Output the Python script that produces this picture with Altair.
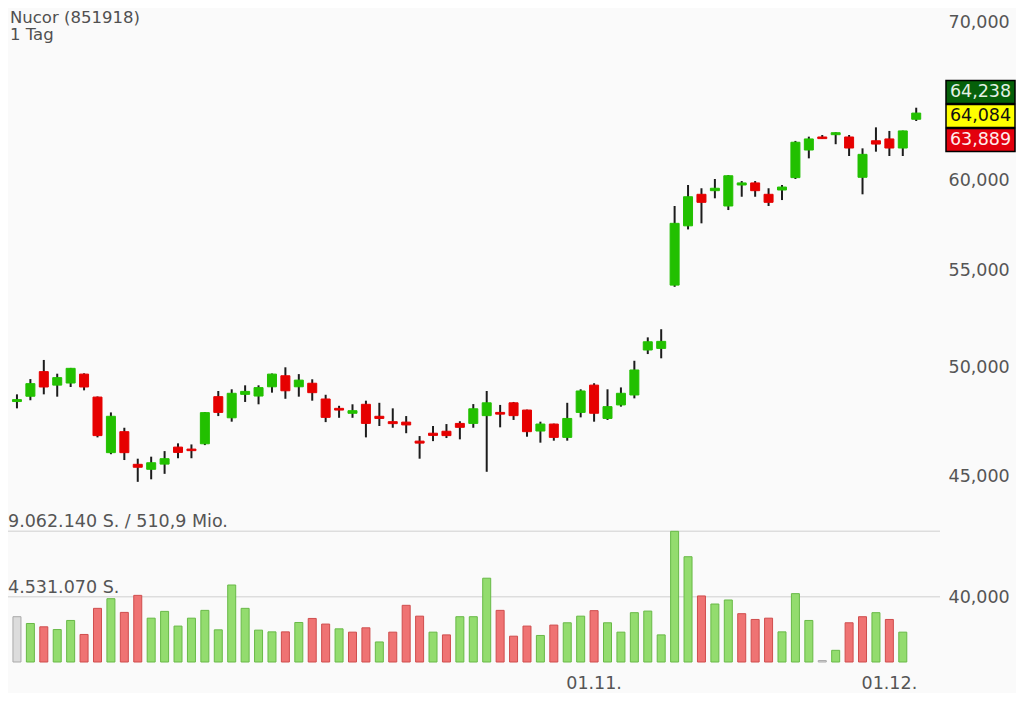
import altair as alt
import numpy as np
import pandas as pd

# ---------------- data ----------------
title_lines = ["Nucor (851918)", "1 Tag"]

opens = [48.39, 48.64, 49.82, 49.17, 49.27, 49.70, 48.60, 46.04, 46.99, 45.52,
         45.30, 45.53, 46.29, 46.20, 46.44, 48.62, 47.63, 48.73, 48.65, 49.09,
         49.62, 49.09, 49.26, 48.51, 48.07, 47.84, 48.26, 47.70, 47.45, 47.43,
         46.56, 46.92, 47.01, 47.37, 47.37, 47.73, 47.88, 48.33, 47.99, 47.02,
         47.34, 46.73, 47.88, 49.17, 47.60, 48.23, 48.70, 50.88, 50.96, 54.20,
         57.42, 59.21, 59.42, 58.54, 59.75, 59.87, 59.21, 59.46, 60.18, 61.82,
         62.61, 62.75, 62.61, 60.20, 62.38, 62.49, 61.94, 63.70]
highs = [48.73, 49.46, 50.39, 49.72, 50.00, 49.74, 48.63, 47.88, 47.17, 45.77,
         45.86, 46.11, 46.46, 46.41, 47.90, 48.89, 48.97, 49.16, 49.16, 49.73,
         50.03, 49.70, 49.45, 48.71, 48.19, 48.26, 48.43, 48.33, 48.07, 47.71,
         46.79, 47.25, 47.34, 47.47, 48.27, 48.89, 48.23, 48.37, 48.01, 47.45,
         47.36, 48.33, 48.97, 49.26, 48.97, 49.06, 50.35, 51.51, 51.92, 58.54,
         59.75, 59.56, 60.10, 60.33, 59.98, 59.98, 59.56, 59.75, 62.37, 62.63,
         62.73, 62.90, 62.73, 61.92, 63.20, 62.98, 63.00, 64.42]
lows = [48.07, 48.45, 48.73, 48.62, 49.08, 48.92, 46.73, 45.97, 45.71, 44.75,
        44.86, 45.10, 45.79, 45.79, 46.38, 47.71, 47.45, 48.37, 48.26, 48.81,
        48.52, 48.62, 48.43, 47.43, 47.63, 47.63, 46.73, 47.25, 47.17, 46.92,
        45.77, 46.56, 46.70, 46.64, 47.17, 45.19, 47.19, 47.53, 46.76, 46.49,
        46.58, 46.58, 47.65, 47.45, 47.53, 48.15, 48.54, 50.68, 50.47, 54.11,
        57.22, 57.56, 58.98, 58.31, 59.07, 59.07, 58.54, 58.88, 60.10, 61.32,
        62.49, 62.17, 61.46, 59.21, 61.72, 61.46, 61.46, 63.59]
closes = [48.48, 49.24, 49.08, 49.53, 49.98, 49.08, 46.81, 47.70, 46.04, 45.39,
          45.59, 45.77, 46.05, 46.13, 47.87, 47.88, 48.78, 48.87, 49.05, 49.70,
          48.90, 49.41, 48.81, 47.65, 47.99, 47.96, 47.37, 47.60, 47.36, 47.30,
          46.47, 46.82, 46.81, 47.19, 48.05, 48.33, 47.80, 47.73, 46.99, 47.34,
          46.73, 47.60, 48.89, 47.84, 48.15, 48.78, 49.90, 51.29, 51.31, 57.56,
          59.07, 58.75, 59.56, 60.29, 59.87, 59.42, 58.75, 59.63, 62.29, 62.49,
          62.51, 62.87, 61.94, 61.56, 62.18, 61.94, 62.98, 64.084]

volumes = [3140000, 2670000, 2440000, 2250000, 2880000, 1910000, 3720000, 4390000, 3440000, 4620000,
           3040000, 3510000, 2490000, 3040000, 3580000, 2230000, 5340000, 3720000, 2210000, 2090000,
           2090000, 2740000, 3020000, 2630000, 2300000, 2070000, 2370000, 1390000, 2070000, 3930000,
           3180000, 2070000, 1880000, 3140000, 3140000, 5810000, 3580000, 1790000, 2490000, 1840000,
           2560000, 2720000, 3180000, 3560000, 2720000, 2070000, 3420000, 3530000, 1880000, 9062140,
           7300000, 4580000, 4020000, 4300000, 3350000, 2950000, 3040000, 2090000, 4740000, 2880000,
           100000, 810000, 2720000, 3140000, 3420000, 2950000, 2070000]
vol_dir = ("n u d u u d d u d d "
           "u u u u u u u u u u "
           "d u d d u d d u d d "
           "d u d u u u d d d u "
           "d u u d u u u u u u "
           "u d u u d d d u u u "
           "n u d d u d u").split()

price_ticks = [40, 45, 50, 55, 60, 70]
date_labels = ["01.11.", "01.12."]
date_label_idx = [43, 65]
vol_ref_levels = [9062140, 4531070]
vol_ref_texts = ["9.062.140 S. / 510,9 Mio.", "4.531.070 S."]
quote_values = [64.238, 64.084, 63.889]
quote_rows = [-1, 0, 1]

# ---------------- layout / style ----------------
W, H = 932, 654
FONT = "DejaVu Sans"
FS = 17.5
TXT = "#555555"
UP, DOWN = "#22c000", "#e60000"
PX_PER_LN = 1026.8  # pixels per natural-log unit on the price axis

xscale = alt.Scale(domain=[-0.2948, 68.40], nice=False, zero=False)
pscale = alt.Scale(type="log", domain=[37.549, 70.989], nice=False, zero=False)
vscale = alt.Scale(domain=[0, 45.35e6], nice=False, zero=False)

candles = pd.DataFrame({"i": range(len(closes)), "open": opens, "high": highs,
                        "low": lows, "close": closes})
candles["dir"] = np.where(candles["close"] >= candles["open"], "up", "down")

vols = pd.DataFrame({"i": range(len(volumes)), "vol": volumes, "vdir": vol_dir})
refs = pd.DataFrame({"v": vol_ref_levels, "t": vol_ref_texts})
dates = pd.DataFrame({"i": date_label_idx, "t": date_labels})

last = closes[-1]
quotes = pd.DataFrame({"v": quote_values, "row": quote_rows})
quotes["center"] = last * np.exp(-(quotes["row"] * 24 + 3) / PX_PER_LN)
quotes["label"] = [f"{v:.3f}".replace(".", ",") for v in quote_values]
quotes["kind"] = ["a", "b", "c"]

X = alt.X("i:Q", scale=xscale, axis=None)

grid = alt.Chart(refs).mark_rule(color="#dddddd", strokeWidth=1.5).encode(
    y=alt.Y("v:Q", scale=vscale, axis=None),
    x=alt.value(0), x2=alt.value(W))

ref_text = alt.Chart(refs).mark_text(
    align="left", baseline="alphabetic", dy=-4, font=FONT, fontSize=FS, color=TXT
).encode(y=alt.Y("v:Q", scale=vscale, axis=None), x=alt.value(0), text="t:N")

vol_bars = alt.Chart(vols).mark_bar(size=8, strokeWidth=1).encode(
    x=X,
    y=alt.Y("vol:Q", scale=vscale, axis=None),
    color=alt.Color("vdir:N", scale=alt.Scale(domain=["u", "d", "n"],
                    range=["#93dc6e", "#ef7373", "#dcdcdc"]), legend=None),
    stroke=alt.Stroke("vdir:N", scale=alt.Scale(domain=["u", "d", "n"],
                      range=["#68b947", "#cf4d4d", "#a9a9a9"]), legend=None))

wicks = alt.Chart(candles).mark_rule(color="#1c1c1c", strokeWidth=2).encode(
    x=X,
    y=alt.Y("low:Q", scale=pscale,
            axis=alt.Axis(orient="right", values=price_ticks,
                          labelExpr="replace(format(datum.value, '.3f'), '.', ',')",
                          domain=False, ticks=False, grid=False, title=None,
                          labelPadding=8, labelFont=FONT, labelFontSize=FS,
                          labelColor=TXT, labelAlign="left", labelBaseline="middle")),
    y2="high:Q")

bodies = alt.Chart(candles).mark_bar(size=9, strokeWidth=1).encode(
    x=X,
    y=alt.Y("open:Q", scale=pscale, axis=None),
    y2="close:Q",
    color=alt.Color("dir:N", scale=alt.Scale(domain=["up", "down"], range=[UP, DOWN]), legend=None),
    stroke=alt.Stroke("dir:N", scale=alt.Scale(domain=["up", "down"], range=[UP, DOWN]), legend=None))

boxes = alt.Chart(quotes).mark_rect(stroke="#000000", strokeWidth=1.5,
                                    yOffset=-11.5, y2Offset=11.5).encode(
    y=alt.Y("center:Q", scale=pscale, axis=None), y2="center:Q",
    x=alt.value(W + 6), x2=alt.value(W + 75),
    color=alt.Color("kind:N", scale=alt.Scale(domain=["a", "b", "c"],
                    range=["#06600a", "#ffff00", "#e3000d"]), legend=None))

box_text = alt.Chart(quotes).mark_text(align="center", baseline="middle",
                                       font=FONT, fontSize=FS).encode(
    y=alt.Y("center:Q", scale=pscale, axis=None),
    x=alt.value(W + 40.5), text="label:N",
    color=alt.Color("kind:N", scale=alt.Scale(domain=["a", "b", "c"],
                    range=["#e4f0e4", "#111111", "#ffecec"]), legend=None))

date_text = alt.Chart(dates).mark_text(align="center", baseline="middle",
                                       font=FONT, fontSize=FS, color=TXT).encode(
    x=X, y=alt.value(H + 22), text="t:N")

title1 = alt.Chart(pd.DataFrame({"t": [title_lines[0]]})).mark_text(
    align="left", baseline="alphabetic", font=FONT, fontSize=16.5, color="#505050"
).encode(x=alt.value(2), y=alt.value(14.5), text="t:N")

title2 = alt.Chart(pd.DataFrame({"t": [title_lines[1]]})).mark_text(
    align="left", baseline="alphabetic", font=FONT, fontSize=16.5, color="#505050"
).encode(x=alt.value(2), y=alt.value(31.5), text="t:N")

chart = alt.layer(grid, vol_bars, ref_text, wicks, bodies, boxes, box_text,
                  date_text, title1, title2).resolve_scale(
    y="independent", color="independent", stroke="independent"
).properties(
    width=W, height=H,
    autosize=alt.AutoSizeParams(type="none"),
    padding={"left": 0, "top": 0, "right": 76, "bottom": 31},
    background="#fafafa",
).configure_view(stroke=None)

chart.save("out.html", embed_options={"renderer": "svg", "actions": False})
